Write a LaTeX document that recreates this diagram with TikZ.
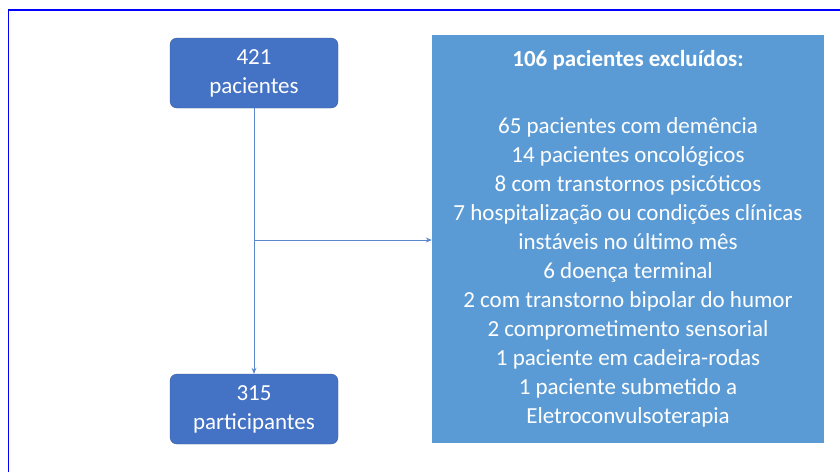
\documentclass[tikz,border=0pt]{standalone}
\usepackage{fontspec}
\setmainfont{Carlito}
\usetikzlibrary{arrows.meta}
\definecolor{boxblue}{HTML}{4472C4}
\definecolor{exclblue}{HTML}{5B9BD5}
\definecolor{linkblue}{HTML}{5B87CC}
\tikzset{
    every node/.style={inner sep=0mm, text=white, font=\fontsize{23}{29}\selectfont, align=center}
}
\tikzset{countbox/.style={rectangle, rounded corners=7pt, fill=boxblue, draw=boxblue!80!black, line width=0.4pt, minimum width=168pt, minimum height=70pt}}
\tikzset{exclbox/.style={rectangle, fill=exclblue, minimum width=392pt, minimum height=408pt}}
\tikzset{link/.style={draw=linkblue, line width=0.9pt, -{Stealth[length=6pt,width=5pt]}}}

\begin{document}
\begin{tikzpicture}[x=1pt, y=-1pt]
    \useasboundingbox (0,0) rectangle (840,472);
    \draw[blue, line width=1.6pt] (8.5,472) -- (8.5,10) -- (840,10);

    \node (n421) [countbox] at (254, 73) {421\\pacientes};
    \node (n315) [countbox] at (254, 409) {315\\participantes};
    \node (excl) [exclbox] at (628, 239) {};
    \node (excltxt) at (628, 239) {\textbf{106 pacientes excluídos:}\\[38pt]
        65 pacientes com demência\\
        14 pacientes oncológicos\\
        8 com transtornos psicóticos\\
        7 hospitalização ou condições clínicas\\
        instáveis no último mês\\
        6 doença terminal\\
        2 com transtorno bipolar do humor\\
        2 comprometimento sensorial\\
        1 paciente em cadeira-rodas\\
        1 paciente submetido a\\
        Eletroconvulsoterapia};
    \coordinate (split) at (254, 240);

    \draw[link] (n421) -- (n315);
    \draw[link] (split) -- (split -| excl.west);
\end{tikzpicture}
\end{document}
